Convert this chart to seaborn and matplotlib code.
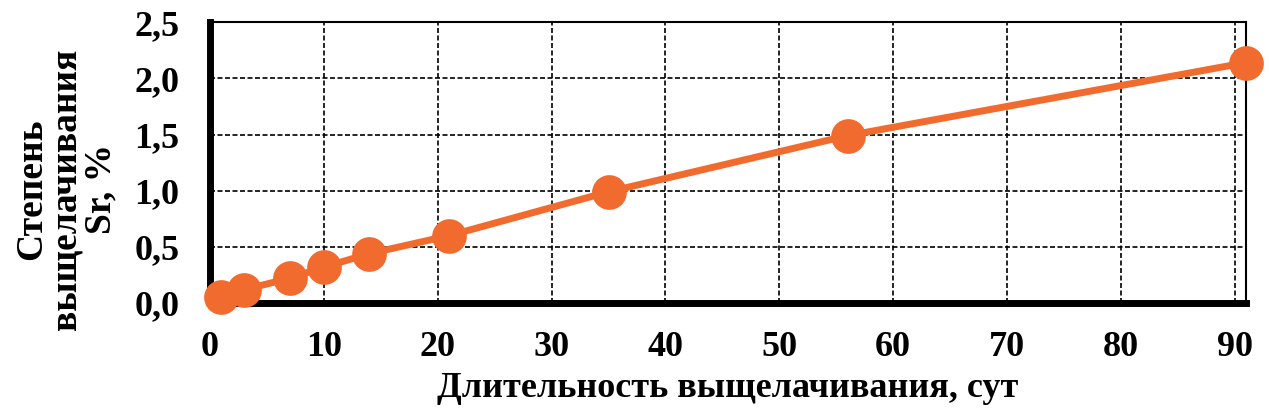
import numpy as np
import pandas as pd
import matplotlib
matplotlib.use("Agg")
import matplotlib.pyplot as plt
import matplotlib.ticker as mticker
import seaborn as sns

# данные
days = [1, 3, 7, 10, 14, 21, 35, 56, 91]
sr_leach = [0.05, 0.12, 0.22, 0.32, 0.44, 0.60, 0.99, 1.49, 2.14]
x_ticks = [0, 10, 20, 30, 40, 50, 60, 70, 80, 90]
y_ticks = [0.0, 0.5, 1.0, 1.5, 2.0, 2.5]

df = pd.DataFrame({'days': days, 'sr': sr_leach})

sns.set_style("white")
plt.rcParams['font.family'] = ['Liberation Serif', 'DejaVu Serif']
plt.rcParams['font.weight'] = 'bold'
plt.rcParams['text.color'] = 'black'
plt.rcParams['axes.labelcolor'] = 'black'

fig = plt.figure(figsize=(12.69, 4.18), dpi=100)
ax = fig.add_axes([0.1655, 0.275, 0.8165, 0.672])

sns.lineplot(data=df, x='days', y='sr', ax=ax, color='#F26B2E',
             linewidth=5, marker='o', markersize=25, markeredgewidth=0,
             clip_on=False, zorder=5)

ax.set_xlim(0, 91)
ax.set_ylim(0, 2.5)
ax.set_xticks(x_ticks)
ax.set_yticks(y_ticks)
ax.yaxis.set_major_formatter(mticker.FuncFormatter(lambda v, p: f"{v:.1f}".replace('.', ',')))

ax.grid(True, color='black', linestyle=(0, (3, 1.5)), linewidth=1.2)
for side in ['top', 'right']:
    ax.spines[side].set_linewidth(1.5)
    ax.spines[side].set_color('black')
for side in ['left', 'bottom']:
    ax.spines[side].set_linewidth(5)
    ax.spines[side].set_color('black')

ax.tick_params(axis='both', direction='out', length=8, width=5, colors='black',
               labelsize=26)
ax.tick_params(axis='y', pad=14)
ax.tick_params(axis='x', pad=12)
for lbl in ax.get_xticklabels() + ax.get_yticklabels():
    lbl.set_fontweight('bold')

ax.set_xlabel("Длительность выщелачивания, сут", fontsize=26, fontweight='bold',
              labelpad=6, color='black')
ax.set_ylabel("Степень\nвыщелачивания\nSr, %", fontsize=27, fontweight='bold',
              linespacing=1.0, color='black')
ax.yaxis.set_label_coords(-0.088, 0.405)

fig.savefig("out.png", dpi=100)
